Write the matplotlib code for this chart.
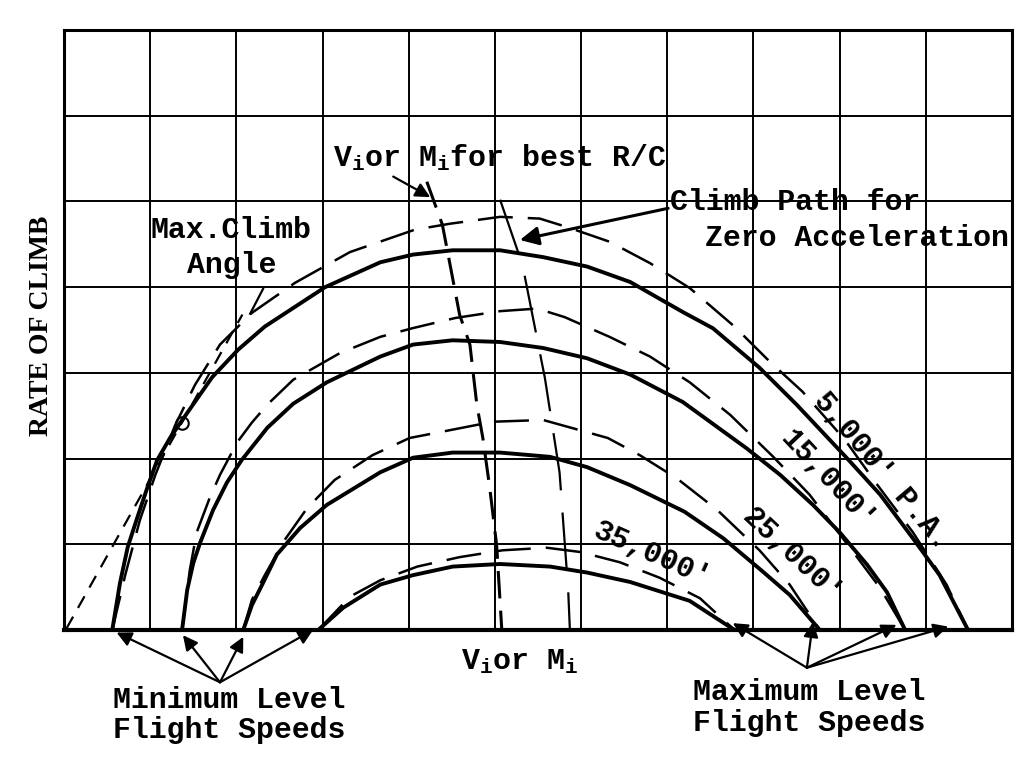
import matplotlib
matplotlib.use("Agg")
import matplotlib.pyplot as plt

# rate-of-climb curves (grid units: 11 x 7 cells)
x_5k = [0.56, 0.65, 0.74, 0.85, 0.97, 1.08, 1.23, 1.40, 1.72, 2.02, 2.33, 2.68, 3.03, 3.67, 4.05,
        4.51, 5.06, 5.56, 6.07, 6.57, 7.18, 7.53, 8.07, 8.50, 9.08, 9.47, 9.85, 10.16, 10.49]
y_5k = [0.0, 0.55, 0.97, 1.31, 1.67, 1.98, 2.24, 2.49, 2.95, 3.27, 3.54, 3.77, 4.00, 4.29, 4.38,
        4.43, 4.43, 4.35, 4.24, 4.06, 3.71, 3.52, 3.06, 2.63, 2.01, 1.58, 1.07, 0.64, 0.0]

x_15k = [1.37, 1.43, 1.50, 1.58, 1.73, 1.89, 2.06, 2.36, 2.66, 3.05, 3.67, 4.05, 4.51, 5.06,
         5.56, 6.07, 6.57, 7.18, 7.55, 7.92, 8.31, 8.69, 9.00, 9.32, 9.55, 9.76]
y_15k = [0.0, 0.47, 0.78, 1.02, 1.40, 1.72, 1.98, 2.36, 2.64, 2.89, 3.19, 3.33, 3.38, 3.36,
         3.29, 3.17, 2.98, 2.66, 2.39, 2.12, 1.81, 1.46, 1.14, 0.76, 0.44, 0.0]

x_25k = [2.08, 2.18, 2.30, 2.47, 2.74, 3.05, 3.67, 4.05, 4.51, 5.06, 5.64, 6.07, 6.57, 7.20,
         7.65, 8.11, 8.42, 8.77]
y_25k = [0.0, 0.29, 0.53, 0.88, 1.19, 1.46, 1.84, 2.01, 2.07, 2.07, 2.02, 1.90, 1.69, 1.38,
         1.07, 0.68, 0.41, 0.0]

x_35k = [2.95, 3.24, 3.67, 4.05, 4.51, 5.06, 5.64, 6.07, 6.57, 7.26, 7.78]
y_35k = [0.0, 0.26, 0.53, 0.64, 0.74, 0.77, 0.74, 0.67, 0.56, 0.34, 0.0]

# dashed companions (climb path for zero acceleration family)
xd_5k = [0.56, 0.71, 0.88, 1.06, 1.29, 1.52, 1.81, 2.18, 2.68, 3.32, 4.07, 4.48, 5.06, 5.52,
         5.84, 6.33, 6.80, 7.26, 7.78, 8.19, 8.57, 9.06, 9.44, 9.85, 10.24, 10.49]
yd_5k = [0.0, 0.64, 1.28, 1.81, 2.39, 2.86, 3.33, 3.70, 4.05, 4.41, 4.67, 4.74, 4.82, 4.80,
         4.70, 4.53, 4.28, 3.99, 3.54, 3.13, 2.78, 2.22, 1.69, 1.14, 0.53, 0.0]

xd_15k = [1.37, 1.46, 1.54, 1.69, 1.81, 2.01, 2.18, 2.36, 2.66, 3.20, 3.67, 4.04, 4.54, 5.06,
          5.49, 5.81, 6.33, 6.80, 7.26, 7.73, 8.23, 8.65, 9.12, 9.47, 9.76]
yd_15k = [0.0, 0.70, 1.14, 1.54, 1.81, 2.19, 2.42, 2.63, 2.92, 3.23, 3.42, 3.52, 3.64, 3.72,
          3.75, 3.65, 3.42, 3.19, 2.89, 2.51, 2.02, 1.58, 0.96, 0.49, 0.0]

xd_25k = [2.08, 2.18, 2.33, 2.56, 2.82, 3.14, 3.58, 4.01, 4.42, 4.98, 5.56, 5.99, 6.31, 6.68,
          7.11, 7.58, 8.07, 8.42, 8.77]
yd_25k = [0.0, 0.35, 0.64, 1.05, 1.42, 1.75, 2.04, 2.24, 2.32, 2.43, 2.45, 2.33, 2.24, 2.04,
          1.77, 1.40, 0.93, 0.53, 0.0]

xd_35k = [2.95, 3.32, 3.67, 4.10, 4.59, 5.09, 5.60, 5.99, 6.45, 6.91, 7.38, 7.78]
yd_35k = [0.0, 0.39, 0.58, 0.74, 0.85, 0.93, 0.96, 0.91, 0.79, 0.61, 0.37, 0.0]

# speed for best R/C and climb path for zero acceleration
x_best = [4.21, 4.39, 4.44, 4.59, 4.71, 4.79, 4.86, 4.94, 5.02, 5.08]
y_best = [5.23, 4.73, 4.47, 3.68, 3.33, 2.63, 2.24, 1.66, 0.99, 0.0]
x_zero = [5.06, 5.32, 5.58, 5.75, 5.85, 5.87]
y_zero = [5.02, 4.26, 2.94, 1.84, 0.47, 0.0]

# max climb angle tangent from origin and tangent point
x_tan = [0.03, 2.07]
y_tan = [0.02, 3.68]
tan_pt = (1.37, 2.42)

# level flight speed end points
min_speeds = [(0.61, -0.03), (1.38, -0.06), (2.08, -0.08), (2.89, 0.0)]
max_speeds = [(7.76, 0.08), (8.69, 0.09), (9.66, 0.06), (10.26, 0.04)]

# altitude labels: text, position, angle
alt_labels = ["5,000' P.A.", "15,000'", "25,000'", "35,000'"]
alt_pos = [(9.49, 1.86), (8.87, 1.75), (8.44, 0.87), (6.82, 0.88)]
alt_rot = [-50, -47, -43, -24]

mono = "Liberation Mono"
fs = 21.5

fig = plt.figure(figsize=(10.32, 7.57), dpi=100)
ax = fig.add_axes([64 / 1032, 127 / 757, 948 / 1032, 600 / 757])
ax.set_xlim(0, 11)
ax.set_ylim(0, 7)
ax.set_xticks(range(12))
ax.set_yticks(range(8))
ax.set_xticklabels([])
ax.set_yticklabels([])
ax.tick_params(length=0)
ax.grid(True, color="black", lw=1.4)
for s in ax.spines.values():
    s.set_linewidth(2.2)
ax.spines["bottom"].set_linewidth(3)

for xs, ys in [(x_5k, y_5k), (x_15k, y_15k), (x_25k, y_25k), (x_35k, y_35k)]:
    ax.plot(xs, ys, color="black", lw=2.8, solid_capstyle="round", clip_on=False)
for xs, ys in [(xd_5k, yd_5k), (xd_15k, yd_15k), (xd_25k, yd_25k), (xd_35k, yd_35k)]:
    ax.plot(xs, ys, color="black", lw=1.8, dashes=(14, 6))

ax.plot(x_best, y_best, color="black", lw=2.2, dashes=(9, 4))
ax.plot(x_zero, y_zero, color="black", lw=1.6, dashes=(26, 10))
ax.plot(x_tan, y_tan, color="black", lw=1.6, dashes=(6, 4.5))
ax.plot(*tan_pt, "o", ms=9, mfc="none", mec="black", mew=1.5)

# labels
ax.text(-0.26, 3.55, "RATE OF CLIMB", rotation=90, ha="center", va="center",
        fontsize=20, fontweight="bold", family="Liberation Serif")
ax.text(3.12, 5.51, r"$\mathregular{V_i}$or $\mathregular{M_i}$for best R/C", ha="left", va="center",
        fontsize=fs, family=mono, fontweight="bold")
ax.text(7.03, 4.99, "Climb Path for", ha="left", va="center", fontsize=fs, family=mono, fontweight="bold")
ax.text(7.44, 4.57, "Zero Acceleration", ha="left", va="center", fontsize=fs, family=mono, fontweight="bold")
ax.text(1.94, 4.67, "Max.Climb", ha="center", va="center", fontsize=fs, family=mono, fontweight="bold")
ax.text(1.94, 4.26, "Angle", ha="center", va="center", fontsize=fs, family=mono, fontweight="bold")
ax.plot([2.16, 2.31], [3.69, 3.98], color="black", lw=1.6)

ax.text(5.29, -0.37, r"$\mathregular{V_i}$or $\mathregular{M_i}$", ha="center", va="center",
        fontsize=fs, family=mono, fontweight="bold")
ax.text(0.57, -0.82, "Minimum Level", ha="left", va="center", fontsize=fs, family=mono, fontweight="bold")
ax.text(0.57, -1.17, "Flight Speeds", ha="left", va="center", fontsize=fs, family=mono, fontweight="bold")
ax.text(7.30, -0.72, "Maximum Level", ha="left", va="center", fontsize=fs, family=mono, fontweight="bold")
ax.text(7.30, -1.09, "Flight Speeds", ha="left", va="center", fontsize=fs, family=mono, fontweight="bold")

for lab, (lx, ly), rot in zip(alt_labels, alt_pos, alt_rot):
    ax.text(lx, ly, lab, rotation=rot, ha="center", va="center", fontsize=fs, family=mono,
            fontweight="bold", rotation_mode="anchor")

arrow = dict(arrowstyle="-|>", lw=1.6, color="black", mutation_scale=22, shrinkA=0, shrinkB=0)
ax.annotate("", xy=(5.29, 4.55), xytext=(7.01, 4.92), arrowprops=dict(arrow, lw=2.2, mutation_scale=28),
            annotation_clip=False)
ax.annotate("", xy=(4.25, 5.05), xytext=(3.82, 5.29), arrowprops=arrow, annotation_clip=False)
for tip in min_speeds:
    ax.annotate("", xy=tip, xytext=(1.81, -0.61), arrowprops=arrow, annotation_clip=False)
for tip in max_speeds:
    ax.annotate("", xy=tip, xytext=(8.62, -0.44), arrowprops=arrow, annotation_clip=False)

fig.savefig("out.png", dpi=100)
